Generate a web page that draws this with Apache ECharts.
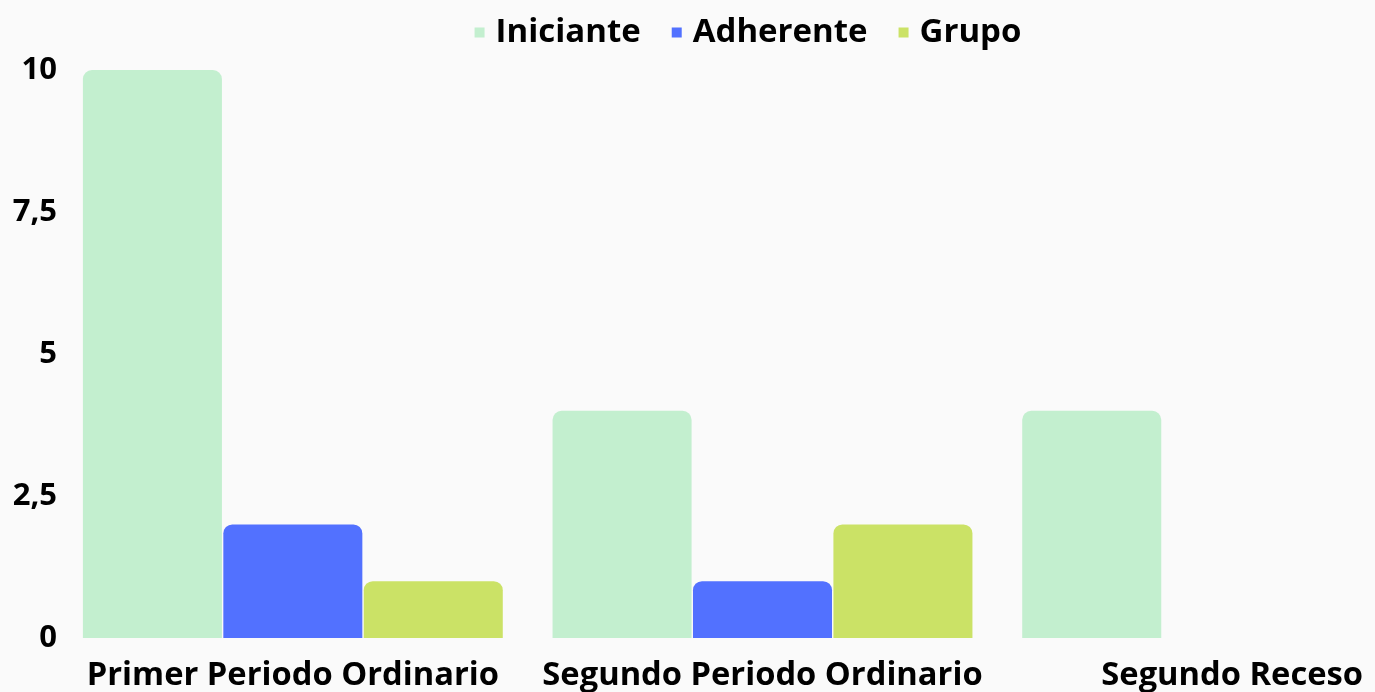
<!DOCTYPE html>
<html>
<head>
<meta charset="utf-8">
<script src="https://cdn.jsdelivr.net/npm/echarts@6/dist/echarts.min.js"></script>
<style>
html,body{margin:0;padding:0;background:#fafafa;overflow:hidden;width:1375px;height:692px;}
#chart{width:1496px;height:692px;}
</style>
</head>
<body>
<div id="chart"></div>
<script>
const categories = ['Primer Periodo Ordinario', 'Segundo Periodo Ordinario', 'Segundo Receso'];
const iniciante = [10, 4, 4];
const adherente = [2, 1, 0];
const grupo = [1, 2, 0];
const seriesNames = ['Iniciante', 'Adherente', 'Grupo'];
const colors = ['#c3efcf', '#5271ff', '#cbe266'];

const font = '"Open Sans", "Noto Sans", sans-serif';
const chart = echarts.init(document.getElementById('chart'));
const mk = (name, data, color) => ({
  name, type: 'bar', data,
  barGap: '1%',
  barCategoryGap: '10.6%',
  itemStyle: { color, borderRadius: [9, 9, 0, 0] }
});
chart.setOption({
  backgroundColor: '#fafafa',
  textStyle: { fontFamily: font },
  color: colors,
  legend: {
    top: 11, left: 'center',
    icon: 'rect', itemWidth: 10, itemHeight: 10, itemGap: 31,
    textStyle: { fontFamily: font, fontWeight: 'bold', fontSize: 33, color: '#000', padding: [0, 0, 0, 6] },
    data: seriesNames
  },
  grid: { left: 58, top: 70, right: 29, bottom: 54, containLabel: false },
  xAxis: {
    type: 'category', data: categories,
    axisLine: { show: false }, axisTick: { show: false },
    axisLabel: { margin: 21, fontFamily: font, fontWeight: 'bold', fontSize: 32.7, color: '#000', interval: 0 }
  },
  yAxis: {
    type: 'value', min: 0, max: 10, interval: 2.5,
    splitLine: { show: false }, axisLine: { show: false }, axisTick: { show: false },
    axisLabel: {
      margin: 1, fontFamily: font, fontWeight: 'bold', fontSize: 31, color: '#000',
      padding: [5, 0, 0, 0],
      formatter: v => String(v).replace('.', ',')
    }
  },
  series: [
    mk(seriesNames[0], iniciante, colors[0]),
    mk(seriesNames[1], adherente, colors[1]),
    mk(seriesNames[2], grupo, colors[2])
  ]
});
</script>
</body>
</html>
